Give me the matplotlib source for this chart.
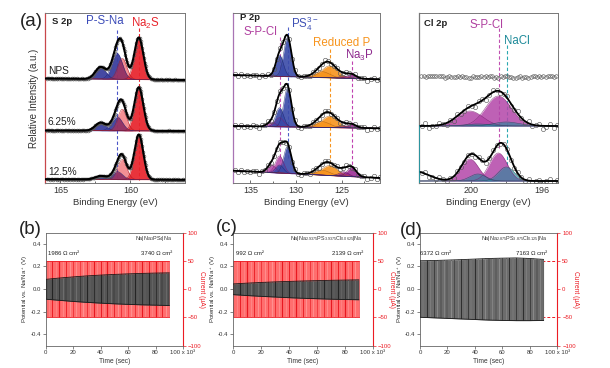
import numpy as np
import matplotlib
matplotlib.use('Agg')
import matplotlib.pyplot as plt

plt.rcParams['font.family'] = ['Liberation Sans', 'DejaVu Sans']
plt.rcParams['mathtext.fontset'] = 'custom'
plt.rcParams['mathtext.rm'] = 'Liberation Sans'
plt.rcParams['mathtext.it'] = 'Liberation Sans:italic'
plt.rcParams['mathtext.bf'] = 'Liberation Sans:bold'

# ---------------- data: XPS (peak parameters) ----------------
sample_labels = ['NPS', '6.25%', '12.5%']
noise = [0.3, -0.6, 0.8, -0.2, -0.9, 0.5, 0.1, -0.4, 0.7, -0.7, 0.2, 0.9, -0.3, -0.8, 0.6,
         0.0, -0.5, 0.4, 0.9, -0.1, -0.7, 0.3, 0.6, -0.9, 0.1, 0.5, -0.4, -0.2, 0.8, -0.6,
         0.4, -0.8, 0.2, 0.7, -0.3, 0.0, -0.6, 0.9, -0.1, 0.5, -0.9, 0.3, 0.6, -0.5, 0.1,
         -0.2, 0.8, -0.7, 0.4, -0.4, 0.2, 0.7, -0.8, 0.5, -0.1, -0.6, 0.9, -0.3, 0.0, 0.6]

# S 2p : P-S-Na 2p3/2, P-S-Na 2p1/2, Na2S 2p1/2, Na2S 2p3/2
S_centers = [160.95, 162.13, 160.58, 159.40]
S_sigmas = [0.38, 0.38, 0.32, 0.32]
S_kinds = ['PSNa', 'PSNa', 'Na2S_b', 'Na2S']
S_heights = [[26, 12, 21, 42], [14, 8, 21.5, 43.5], [8, 3.5, 20, 45]]
S_base_left = [104.5, 52.5, 3.8]
S_base_right = [103.0, 52.0, 3.2]

# P 2p : PS4 3/2, PS4 1/2, S-P-Cl 3/2, S-P-Cl 1/2, red P 3/2, red P 1/2, Na3P 3/2, Na3P 1/2
P_centers = [130.93, 131.80, 131.80, 132.67, 126.30, 127.17, 123.90, 124.77]
P_sigmas = [0.42, 0.42, 0.45, 0.45, 0.85, 0.85, 0.5, 0.5]
P_kinds = ['PS4', 'PS4', 'SPCl', 'SPCl', 'RedP', 'RedP', 'Na3P', 'Na3P']
P_heights = [[39, 21, 0, 0, 12, 6, 4, 2],
             [38.5, 19, 9, 4.5, 11.5, 5.8, 3.5, 1.8],
             [27, 8, 17, 8, 10, 5, 9, 4.5]]
P_base_left = [108.0, 57.0, 12.3]
P_base_right = [103.7, 54.7, 5.0]

# Cl 2p : S-P-Cl 3/2, S-P-Cl 1/2, NaCl 3/2, NaCl 1/2
Cl_centers = [198.45, 200.05, 198.00, 199.60]
Cl_kinds = ['SPCl', 'SPCl', 'NaCl', 'NaCl']
Cl_sigmas = [[0.72, 0.72, 0.72, 0.72], [0.5, 0.5, 0.45, 0.45]]
Cl_heights = [[30, 15, 4, 2], [28, 22, 14, 7]]
Cl_base = [57.0, 2.0]
Cl_tail = [0.0, 10.0]      # extra background rise on the high-BE side (bottom spectrum)
Cl_flat_level = 106.3      # NPS: no chlorine signal

# ---------------- data: polarisation (b)-(d) ----------------
env_t = [0, 10, 20, 30, 40, 50, 60, 70, 80, 90]
b_hi = [0.085, 0.097, 0.107, 0.116, 0.123, 0.129, 0.134, 0.138, 0.141, 0.143]
b_lo = [-0.090, -0.100, -0.110, -0.118, -0.125, -0.131, -0.136, -0.140, -0.143, -0.146]
c_hi = [0.045, 0.052, 0.058, 0.063, 0.067, 0.071, 0.074, 0.077, 0.079, 0.081]
c_lo = [-0.050, -0.058, -0.065, -0.071, -0.077, -0.082, -0.086, -0.090, -0.093, -0.095]
d_hi = [0.250, 0.252, 0.256, 0.260, 0.265, 0.270, 0.273, 0.275, 0.270, 0.262]
d_lo = [-0.250, -0.255, -0.260, -0.265, -0.270, -0.275, -0.278, -0.280, -0.280, -0.278]
current_amp = 50  # uA
switch_t = np.arange(0, 90.1, 2.5)
cell_names = [r'Na|Na$_3$PS$_4$|Na',
              r'Na|Na$_{2.9375}$PS$_{3.9375}$Cl$_{0.0625}$|Na',
              r'Na|Na$_{2.875}$PS$_{3.875}$Cl$_{0.125}$|Na']
asr_start = ['1986 Ω cm²', '992 Ω cm²', '6372 Ω cm²']
asr_end = ['3740 Ω cm²', '2139 Ω cm²', '7163 Ω cm²']
time_ticks = [0, 20, 40, 60, 80, 100]
time_ticklabels = ['0', '20', '40', '60', '80', '100 x 10³']

# ---------------- styling ----------------
W, H = 610, 368
fig = plt.figure(figsize=(6.1, 3.68), dpi=100)


def box(l, t, r, b):
    return [l / W, 1 - b / H, (r - l) / W, (b - t) / H]


fills = {'PSNa': ('#3b3f9e', 0.95), 'Na2S': ('#e8232b', 0.92), 'Na2S_b': ('#e8232b', 0.5),
         'PS4': ('#3a4aa8', 0.9), 'SPCl': ('#b345a8', 0.85), 'RedP': ('#f7941d', 0.9),
         'Na3P': ('#96208e', 0.85), 'NaCl': ('#1d8a99', 0.6)}
edges = {'PSNa': '#1f2270', 'Na2S': '#a01015', 'Na2S_b': '#b01820', 'PS4': '#1f2a70',
         'SPCl': '#7a2070', 'RedP': '#b06010', 'Na3P': '#5a1055', 'NaCl': '#0d5560'}


def gauss(x, c, h, s):
    return h * np.exp(-(x - c) ** 2 / (2 * s ** 2))


def xps_axes(rect, xlim, ticks, minor, ticklabels, spine_col):
    ax = fig.add_axes(rect)
    ax.set_xlim(*xlim)
    ax.set_ylim(0, 170)
    ax.set_yticks([])
    ax.set_xticks(ticks)
    ax.set_xticklabels(ticklabels, fontsize=6.5, color='#333333')
    ax.set_xticks(minor, minor=True)
    ax.tick_params(axis='x', which='both', direction='in', length=2.5, width=0.6, pad=2,
                   colors='#555555', labelcolor='#333333')
    ax.tick_params(axis='x', which='minor', length=1.5)
    for s in ax.spines.values():
        s.set_color('#777777')
        s.set_linewidth(0.7)
    ax.spines['left'].set_color(spine_col)
    ax.spines['left'].set_linewidth(0.9)
    ax.set_xlabel('Binding Energy (eV)', fontsize=6.8, color='#333333', labelpad=2)
    return ax


def draw_spectrum(ax, x, xlim, bl, br, centers, sigmas, heights, kinds, extra_c, extra_h,
                  step, ms, nscale, lw, order):
    def model(xx):
        base = bl + (br - bl) * (xlim[0] - xx) / (xlim[0] - xlim[1])
        comps = [gauss(xx, c, h, s) for c, h, s in zip(centers, heights, sigmas)]
        return base, comps, base + sum(comps) + gauss(xx, extra_c, extra_h, 0.8)
    base, comps, env = model(x)
    for i in order:
        if heights[i] <= 0:
            continue
        col, a = fills[kinds[i]]
        ax.fill_between(x, base, base + comps[i], color=col, alpha=a, lw=0, zorder=2)
        ax.plot(x, base + comps[i], color=edges[kinds[i]], lw=0.4, zorder=2.5, alpha=0.8)
    xs = np.arange(xlim[1] + 0.05, xlim[0] - 0.05, step)
    _, _, cs = model(xs)
    nz = np.array([noise[i % len(noise)] for i in range(len(xs))])
    ax.plot(xs, cs + nscale * nz, 'o', ms=ms, mfc='none', mec='#5a5a5a', mew=0.45, zorder=3)
    ax.plot(x, env, color='black', lw=lw, zorder=4)


# ---- S 2p ----
S_xlim = (166.1, 156.1)
axS = xps_axes(box(45, 13, 185, 183), S_xlim, [165, 160], [162.5, 157.5], ['165', '160'], '#c8474a')
xS = np.linspace(S_xlim[0], S_xlim[1], 600)
axS.plot([S_centers[0]] * 2, [153, 3], ls=(0, (3, 2)), color='#4a55c8', lw=0.8, zorder=1)
axS.plot([S_centers[3]] * 2, [155, 3], ls=(0, (3, 2)), color='#e8232b', lw=0.8, zorder=1)
for k in range(3):
    draw_spectrum(axS, xS, S_xlim, S_base_left[k], S_base_right[k], S_centers, S_sigmas,
                  S_heights[k], S_kinds, 170.0, 0.0, 0.06, 2.0, 0.5, 1.5, [0, 1, 3, 2])
axS.set_ylabel('Relative Intensity (a.u.)', fontsize=7, color='#333333', labelpad=4)
axS.text(165.6, 161, 'S 2p', fontsize=6.8, fontweight='bold', color='#222222', ha='left', va='center')
axS.text(161.8, 161.5, 'P-S-Na', fontsize=8.3, color='#3b4bb8', ha='center', va='center')
axS.text(158.9, 160, r'Na$_2$S', fontsize=8.3, color='#e8232b', ha='center', va='center')
for lab, yy in zip(sample_labels, [112, 61.3, 11.3]):
    axS.text(165.9, yy, lab, fontsize=7.3, color='#222222', ha='left', va='center')

# ---- P 2p ----
P_xlim = (136.9, 120.8)
axP = xps_axes(box(233, 13, 380, 183), P_xlim, [135, 130, 125], [132.5, 127.5, 122.5],
               ['135', '130', '125'], '#a874b4')
xP = np.linspace(P_xlim[0], P_xlim[1], 600)
axP.plot([131.8] * 2, [146, 22], ls=(0, (3, 2)), color='#c050b0', lw=0.8, zorder=1)
axP.plot([130.93] * 2, [156, 25], ls=(0, (3, 2)), color='#5060c8', lw=0.8, zorder=1)
axP.plot([126.3] * 2, [134, 16], ls=(0, (3, 2)), color='#f7941d', lw=0.8, zorder=1)
axP.plot([123.9] * 2, [122, 12], ls=(0, (3, 2)), color='#c040b0', lw=0.8, zorder=1)
for k in range(3):
    draw_spectrum(axP, xP, P_xlim, P_base_left[k], P_base_right[k], P_centers, P_sigmas,
                  P_heights[k], P_kinds, 170.0, 0.0, 0.33, 3.2, 1.8, 1.3, [4, 5, 6, 7, 2, 3, 1, 0])
axP.text(135.0, 165, 'P 2p', fontsize=6.8, fontweight='bold', color='#222222', ha='center', va='center')
axP.text(133.9, 151, 'S-P-Cl', fontsize=8.3, color='#b040a0', ha='center', va='center')
axP.text(130.6, 159, r'PS$_4^{3-}$', fontsize=8.3, color='#3f51b5', ha='left', va='center')
axP.text(125.0, 140, 'Reduced P', fontsize=8.3, color='#f7941d', ha='center', va='center')
axP.text(123.05, 127.5, r'Na$_3$P', fontsize=8.3, color='#8e2a8e', ha='center', va='center')

# ---- Cl 2p ----
Cl_xlim = (202.9, 195.1)
axC = xps_axes(box(419, 13, 558, 183), Cl_xlim, [200, 196], [202, 198], ['200', '196'], '#777777')
axC.axvline(Cl_xlim[0], ymin=0, ymax=57 / 170, color='#1d9aa8', lw=1.2, zorder=5)
xC = np.linspace(Cl_xlim[0], Cl_xlim[1], 600)
axC.plot([198.39] * 2, [155, 33], ls=(0, (3, 2)), color='#c050b0', lw=0.8, zorder=1)
axC.plot([197.97] * 2, [138, 18], ls=(0, (3, 2)), color='#2aa8b0', lw=0.8, zorder=1)
xsf = np.arange(Cl_xlim[1] + 0.1, Cl_xlim[0] - 0.05, 0.12)
nzf = np.array([noise[(i * 7) % len(noise)] for i in range(len(xsf))])
axC.plot(xsf, Cl_flat_level + 1.3 * nzf, 'o', ms=2.6, mfc='none', mec='#5a5a5a', mew=0.45, zorder=3)
for k in range(2):
    draw_spectrum(axC, xC, Cl_xlim, Cl_base[k], Cl_base[k], Cl_centers, Cl_sigmas[k],
                  Cl_heights[k], Cl_kinds, 203.2, Cl_tail[k], 0.2, 3.0,
                  3.0 if k == 0 else 2.2, 1.3, [0, 1, 2, 3])
axC.text(202.6, 160, 'Cl 2p', fontsize=6.8, fontweight='bold', color='#222222', ha='left', va='center')
axC.text(199.14, 158, 'S-P-Cl', fontsize=8.3, color='#b040a0', ha='center', va='center')
axC.text(197.42, 142, 'NaCl', fontsize=8.3, color='#1d8a99', ha='center', va='center')

fig.text(20 / W, 1 - 22 / H, '(a)', fontsize=13.5, ha='left', va='center', color='#222222')

# ---------------- polarisation panels ----------------
panels = [('(b)', box(45.5, 232.5, 183, 345.5), b_hi, b_lo, (19 / W, 1 - 230 / H),
           '#555555', '#242424', '#6e6e6e', 0.02, 0.92),
          ('(c)', box(233.3, 232.5, 372.7, 345.5), c_hi, c_lo, (216 / W, 1 - 228 / H),
           '#555555', '#242424', '#6e6e6e', 0.02, 0.93),
          ('(d)', box(420, 232.5, 557.3, 345.5), d_hi, d_lo, (400 / W, 1 - 231 / H),
           '#6c6c6c', '#2e2e2e', '#8a8a8a', 0.0, 0.925)]
RED = '#ec1c24'
lwpat = [0.7, 0.35, 0.55, 0.3, 0.8, 0.4, 0.5]
for idx, (lab, rect, hi, lo, lpos, bandc, stripe1, stripe2, xs0, xs1) in enumerate(panels):
    ax = fig.add_axes(rect)
    ax2 = ax.twinx()
    ax.set_zorder(ax2.get_zorder() + 1)
    ax.patch.set_visible(False)
    ax.set_xlim(0, 100)
    ax.set_ylim(-0.5, 0.5)
    ax2.set_ylim(-100, 100)
    # current square wave
    if idx < 2:
        ax2.fill_between([0, 90], [-current_amp] * 2, [current_amp] * 2, color='#ff6e6e', lw=0, zorder=1)
        for j, t in enumerate(switch_t):
            ax2.vlines(t, -current_amp, current_amp, color='#e81820' if j % 2 == 0 else '#ff9090',
                       lw=lwpat[j % len(lwpat)] + 0.1, zorder=2)
        ax2.plot([0, 90], [current_amp] * 2, color=RED, lw=0.6, zorder=2)
        ax2.plot([0, 90], [-current_amp] * 2, color=RED, lw=0.6, zorder=2)
    else:
        ax2.plot([89, 100], [current_amp] * 2, ls=(0, (3, 2)), color=RED, lw=0.7)
        ax2.plot([89, 100], [-current_amp] * 2, ls=(0, (3, 2)), color=RED, lw=0.7)
    # potential band
    band = ax.fill_between(env_t, lo, hi, color=bandc, lw=0, zorder=2)
    clip = band.get_paths()[0]
    for j, t in enumerate(switch_t):
        v = ax.vlines(t, -0.4, 0.4, color=stripe1 if j % 2 == 0 else stripe2,
                      lw=lwpat[(j + 2) % len(lwpat)], zorder=3)
        v.set_clip_path(clip, ax.transData)
    ax.plot(env_t, hi, color='#1a1a1a', lw=0.6, zorder=4)
    ax.plot(env_t, lo, color='#1a1a1a', lw=0.6, zorder=4)

    ax.set_xticks(time_ticks)
    ax.set_xticklabels(time_ticklabels)
    ax.set_yticks([-0.4, -0.2, 0.0, 0.2, 0.4])
    ax.set_yticklabels(['-0.4', '-0.2', '0.0', '0.2', '0.4'])
    ax2.set_yticks([-100, -50, 0, 50, 100])
    ax.tick_params(axis='both', direction='out', length=2, width=0.5, labelsize=4.3,
                   colors='#555555', labelcolor='#333333', pad=1.5)
    ax2.tick_params(axis='y', direction='out', length=2, width=0.5, labelsize=4.3,
                    colors=RED, labelcolor=RED, pad=1.5)
    for s in ['top', 'left', 'bottom']:
        ax2.spines[s].set_visible(False)
        ax.spines[s].set_color('#666666')
        ax.spines[s].set_linewidth(0.6)
    ax.spines['right'].set_visible(False)
    ax2.spines['right'].set_color(RED)
    ax2.spines['right'].set_linewidth(0.8)
    ax.set_xlabel('Time (sec)', fontsize=4.8, color='#333333', labelpad=2)
    ax.set_ylabel(r'Potential vs. Na/Na$^+$ (V)', fontsize=4.4, color='#333333', labelpad=0)
    ax2.set_ylabel('Current (μA)', fontsize=4.8, color=RED, rotation=270, labelpad=2.5)
    ax.text(xs1, 0.95, cell_names[idx], transform=ax.transAxes, fontsize=3.9, ha='right',
            va='center', color='#333333', zorder=6)
    ax.text(xs0, 0.81, asr_start[idx], transform=ax.transAxes, fontsize=4.3, ha='left',
            va='center', color='#222222', zorder=6)
    ax.text(xs1, 0.81, asr_end[idx], transform=ax.transAxes, fontsize=4.3, ha='right',
            va='center', color='#222222', zorder=6)
    fig.text(lpos[0], lpos[1], lab, fontsize=13.5, ha='left', va='center', color='#222222')

fig.savefig('out.png', dpi=100)
